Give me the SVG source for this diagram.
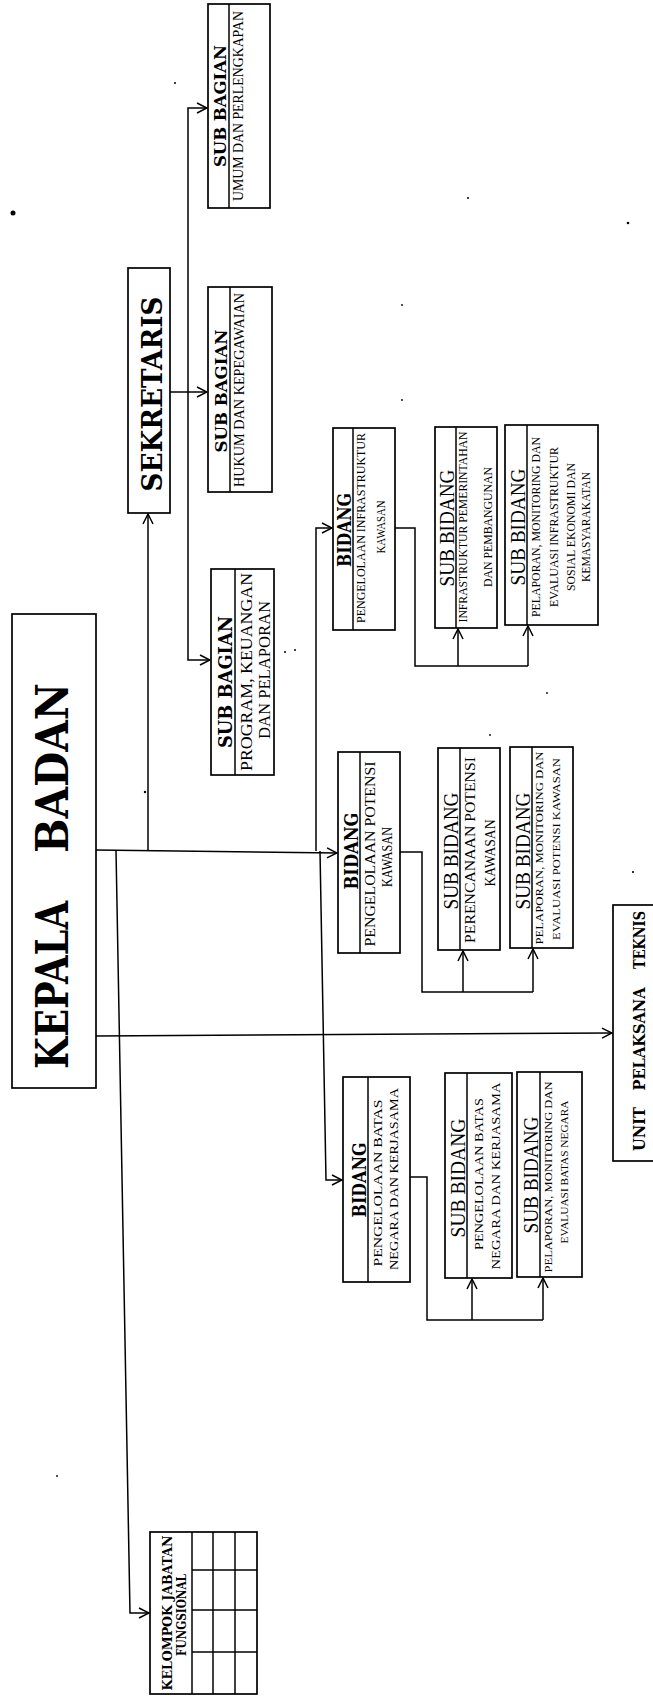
<svg xmlns="http://www.w3.org/2000/svg" width="653" height="1698" viewBox="0 0 653 1698">
<style>
.box{fill:#fff;stroke:#000;stroke-width:1.7}
.div{fill:none;stroke:#000;stroke-width:1.5}
.ln{fill:none;stroke:#000;stroke-width:1.5}
.arr{fill:none;stroke:#000;stroke-width:1.5;marker-end:url(#ah)}
text{text-anchor:middle;fill:#000}
.h{font-family:"DejaVu Serif","Liberation Serif",serif;font-weight:bold}
.t{font-family:"Liberation Serif","Times New Roman",serif}
.dot{fill:#000}
</style>
<defs>
<marker id="ah" viewBox="0 0 12 12" refX="11" refY="6" markerWidth="12" markerHeight="12" markerUnits="userSpaceOnUse" orient="auto">
<path d="M1,1 L11,6 L1,11" fill="none" stroke="#000" stroke-width="1.5"/>
</marker>
</defs>
<rect x="0" y="0" width="653" height="1698" fill="#fff"/>

<g id="connectors">
<path class="arr" d="M96,850 L337,853"/>
<path class="arr" d="M148,850 L148,514"/>
<path class="arr" d="M116,850 L130,1613 L149,1613"/>
<path class="arr" d="M96,1036 L612,1033"/>
<path class="arr" d="M316,851 L316,528 L332,528"/>
<path class="arr" d="M320,851 L326,1180 L342,1180"/>
<path class="arr" d="M170,392 L207,392"/>
<path class="arr" d="M188,392 L188,108 L207,108"/>
<path class="arr" d="M188,392 L188,660 L210,660"/>
<path class="ln" d="M395,528 L415,528 L415,666 L528,666"/>
<path class="arr" d="M458,666 L458,629"/>
<path class="arr" d="M528,666 L528,626"/>
<path class="ln" d="M400,852 L422,852 L422,992 L533,992"/>
<path class="arr" d="M463,992 L463,951"/>
<path class="arr" d="M533,992 L533,949"/>
<path class="ln" d="M410,1177 L427,1177 L427,1320 L543,1320"/>
<path class="arr" d="M472,1320 L472,1279"/>
<path class="arr" d="M543,1320 L543,1278"/>
</g>

<g id="kepala-badan">
<rect class="box" x="12" y="614" width="84" height="474"/>
<text class="h" font-size="44" textLength="168" lengthAdjust="spacingAndGlyphs" transform="translate(68,985) rotate(-90)">KEPALA</text>
<text class="h" font-size="44" textLength="170" lengthAdjust="spacingAndGlyphs" transform="translate(68,768) rotate(-90)">BADAN</text>
</g>

<g id="sekretaris">
<rect class="box" x="128" y="268" width="42" height="245"/>
<text class="h" font-size="27" textLength="195" lengthAdjust="spacingAndGlyphs" transform="translate(162,394) rotate(-90)">SEKRETARIS</text>
</g>

<g id="subbag-umum">
<rect class="box" x="208" y="4" width="62" height="204"/>
<line class="div" x1="229" y1="4" x2="229" y2="208"/>
<text class="h" font-size="17" textLength="122" lengthAdjust="spacingAndGlyphs" transform="translate(226,106) rotate(-90)">SUB  BAGIAN</text>
<text class="t" font-size="14" textLength="190" lengthAdjust="spacingAndGlyphs" transform="translate(243,106) rotate(-90)">UMUM DAN PERLENGKAPAN</text>
</g>

<g id="subbag-hukum">
<rect class="box" x="208" y="287" width="64" height="205"/>
<line class="div" x1="230" y1="287" x2="230" y2="492"/>
<text class="h" font-size="17" textLength="123" lengthAdjust="spacingAndGlyphs" transform="translate(227,391) rotate(-90)">SUB  BAGIAN</text>
<text class="t" font-size="14" textLength="194" lengthAdjust="spacingAndGlyphs" transform="translate(244,390) rotate(-90)">HUKUM DAN KEPEGAWAIAN</text>
</g>

<g id="subbag-program">
<rect class="box" x="211" y="569" width="63" height="206"/>
<line class="div" x1="235" y1="569" x2="235" y2="775"/>
<text class="h" font-size="18" textLength="132" lengthAdjust="spacingAndGlyphs" transform="translate(232,682) rotate(-90)">SUB  BAGIAN</text>
<text class="t" font-size="17" textLength="198" lengthAdjust="spacingAndGlyphs" transform="translate(252,672) rotate(-90)">PROGRAM, KEUANGAN</text>
<text class="t" font-size="17" textLength="138" lengthAdjust="spacingAndGlyphs" transform="translate(270,670) rotate(-90)">DAN PELAPORAN</text>
</g>

<g id="bidang-infrastruktur">
<rect class="box" x="333" y="428" width="62" height="202"/>
<line class="div" x1="353" y1="428" x2="353" y2="630"/>
<text class="h" font-size="18" textLength="74" lengthAdjust="spacingAndGlyphs" transform="translate(351,530) rotate(-90)">BIDANG</text>
<text class="t" font-size="12" textLength="190" lengthAdjust="spacingAndGlyphs" transform="translate(365,528) rotate(-90)">PENGELOLAAN INFRASTRUKTUR</text>
<text class="t" font-size="12" textLength="53" lengthAdjust="spacingAndGlyphs" transform="translate(385,527) rotate(-90)">KAWASAN</text>
</g>

<g id="subbidang-infra-pemerintahan">
<rect class="box" x="435" y="427" width="62" height="201"/>
<line class="div" x1="456" y1="427" x2="456" y2="628"/>
<text class="t" font-size="21" textLength="117" lengthAdjust="spacingAndGlyphs" transform="translate(454,528) rotate(-90)">SUB BIDANG</text>
<text class="t" font-size="12" textLength="191" lengthAdjust="spacingAndGlyphs" transform="translate(467,527) rotate(-90)">INFRASTRUKTUR PEMERINTAHAN</text>
<text class="t" font-size="12" textLength="120" lengthAdjust="spacingAndGlyphs" transform="translate(492,527) rotate(-90)">DAN PEMBANGUNAN</text>
</g>

<g id="subbidang-infra-pelaporan">
<rect class="box" x="505" y="425" width="93" height="200"/>
<line class="div" x1="527" y1="425" x2="527" y2="625"/>
<text class="t" font-size="21" textLength="117" lengthAdjust="spacingAndGlyphs" transform="translate(525,527) rotate(-90)">SUB BIDANG</text>
<text class="t" font-size="12" textLength="180" lengthAdjust="spacingAndGlyphs" transform="translate(540,527) rotate(-90)">PELAPORAN, MONITORING DAN</text>
<text class="t" font-size="12" textLength="160" lengthAdjust="spacingAndGlyphs" transform="translate(558,527) rotate(-90)">EVALUASI INFRASTRUKTUR</text>
<text class="t" font-size="12" textLength="128" lengthAdjust="spacingAndGlyphs" transform="translate(575,527) rotate(-90)">SOSIAL EKONOMI DAN</text>
<text class="t" font-size="12" textLength="110" lengthAdjust="spacingAndGlyphs" transform="translate(590,527) rotate(-90)">KEMASYARAKATAN</text>
</g>

<g id="bidang-potensi">
<rect class="box" x="338" y="752" width="62" height="201"/>
<line class="div" x1="360" y1="752" x2="360" y2="953"/>
<text class="h" font-size="19" textLength="77" lengthAdjust="spacingAndGlyphs" transform="translate(358,851) rotate(-90)">BIDANG</text>
<text class="t" font-size="14" textLength="185" lengthAdjust="spacingAndGlyphs" transform="translate(375,854) rotate(-90)">PENGELOLAAN POTENSI</text>
<text class="t" font-size="14" textLength="60" lengthAdjust="spacingAndGlyphs" transform="translate(392,857) rotate(-90)">KAWASAN</text>
</g>

<g id="subbidang-perencanaan-potensi">
<rect class="box" x="438" y="748" width="62" height="202"/>
<line class="div" x1="460" y1="748" x2="460" y2="950"/>
<text class="t" font-size="21" textLength="117" lengthAdjust="spacingAndGlyphs" transform="translate(458,851) rotate(-90)">SUB BIDANG</text>
<text class="t" font-size="15" textLength="186" lengthAdjust="spacingAndGlyphs" transform="translate(475,850) rotate(-90)">PERENCANAAN POTENSI</text>
<text class="t" font-size="15" textLength="67" lengthAdjust="spacingAndGlyphs" transform="translate(495,853) rotate(-90)">KAWASAN</text>
</g>

<g id="subbidang-pelaporan-potensi">
<rect class="box" x="510" y="747" width="63" height="201"/>
<line class="div" x1="532" y1="747" x2="532" y2="948"/>
<text class="t" font-size="21" textLength="117" lengthAdjust="spacingAndGlyphs" transform="translate(530,851) rotate(-90)">SUB BIDANG</text>
<text class="t" font-size="11" textLength="193" lengthAdjust="spacingAndGlyphs" transform="translate(543,848) rotate(-90)">PELAPORAN, MONITORING DAN</text>
<text class="t" font-size="11" textLength="182" lengthAdjust="spacingAndGlyphs" transform="translate(560,849) rotate(-90)">EVALUASI POTENSI KAWASAN</text>
</g>

<g id="bidang-batas-negara">
<rect class="box" x="343" y="1077" width="67" height="205"/>
<line class="div" x1="368" y1="1077" x2="368" y2="1282"/>
<text class="h" font-size="19" textLength="75" lengthAdjust="spacingAndGlyphs" transform="translate(366,1180) rotate(-90)">BIDANG</text>
<text class="t" font-size="13" textLength="167" lengthAdjust="spacingAndGlyphs" transform="translate(382,1183) rotate(-90)">PENGELOLAAN  BATAS</text>
<text class="t" font-size="13" textLength="182" lengthAdjust="spacingAndGlyphs" transform="translate(398,1179) rotate(-90)">NEGARA DAN KERJASAMA</text>
</g>

<g id="subbidang-pengelolaan-batas">
<rect class="box" x="445" y="1073" width="67" height="205"/>
<line class="div" x1="467" y1="1073" x2="467" y2="1278"/>
<text class="t" font-size="21" textLength="119" lengthAdjust="spacingAndGlyphs" transform="translate(465,1178) rotate(-90)">SUB BIDANG</text>
<text class="t" font-size="13" textLength="152" lengthAdjust="spacingAndGlyphs" transform="translate(483,1174) rotate(-90)">PENGELOLAAN BATAS</text>
<text class="t" font-size="13" textLength="187" lengthAdjust="spacingAndGlyphs" transform="translate(500,1176) rotate(-90)">NEGARA DAN KERJASAMA</text>
</g>

<g id="subbidang-pelaporan-batas">
<rect class="box" x="517" y="1072" width="65" height="205"/>
<line class="div" x1="540" y1="1072" x2="540" y2="1277"/>
<text class="t" font-size="21" textLength="117" lengthAdjust="spacingAndGlyphs" transform="translate(538,1175) rotate(-90)">SUB BIDANG</text>
<text class="t" font-size="11" textLength="191" lengthAdjust="spacingAndGlyphs" transform="translate(552,1177) rotate(-90)">PELAPORAN, MONITORING DAN</text>
<text class="t" font-size="11" textLength="143" lengthAdjust="spacingAndGlyphs" transform="translate(568,1172) rotate(-90)">EVALUASI BATAS NEGARA</text>
</g>

<g id="unit-pelaksana-teknis">
<rect class="box" x="613" y="905" width="70" height="256"/>
<text class="h" font-size="16" textLength="44" lengthAdjust="spacingAndGlyphs" transform="translate(645,1129) rotate(-90)">UNIT</text>
<text class="h" font-size="16" textLength="103" lengthAdjust="spacingAndGlyphs" transform="translate(645,1039) rotate(-90)">PELAKSANA</text>
<text class="h" font-size="16" textLength="58" lengthAdjust="spacingAndGlyphs" transform="translate(645,940) rotate(-90)">TEKNIS</text>
</g>

<g id="kelompok-jabatan-fungsional">
<rect class="box" x="150" y="1532" width="107" height="162"/>
<line class="div" x1="192" y1="1532" x2="192" y2="1694"/>
<line class="div" x1="213" y1="1532" x2="213" y2="1694"/>
<line class="div" x1="235" y1="1532" x2="235" y2="1694"/>
<line class="div" x1="192" y1="1570" x2="257" y2="1570"/>
<line class="div" x1="192" y1="1610" x2="257" y2="1610"/>
<line class="div" x1="192" y1="1652" x2="257" y2="1652"/>
<text class="h" font-size="13" textLength="155" lengthAdjust="spacingAndGlyphs" transform="translate(172,1613) rotate(-90)">KELOMPOK JABATAN</text>
<text class="h" font-size="13" textLength="82" lengthAdjust="spacingAndGlyphs" transform="translate(186,1615) rotate(-90)">FUNGSIONAL</text>
</g>

<g id="specks">
<circle class="dot" cx="13" cy="213" r="2.5"/>
<circle class="dot" cx="145" cy="792" r="1.2"/>
<circle class="dot" cx="285" cy="652" r="1"/>
<circle class="dot" cx="295" cy="650" r="1"/>
<circle class="dot" cx="628" cy="223" r="1.3"/>
<circle class="dot" cx="468" cy="198" r="1"/>
<circle class="dot" cx="402" cy="305" r="0.9"/>
<circle class="dot" cx="402" cy="400" r="0.9"/>
<circle class="dot" cx="547" cy="693" r="0.9"/>
<circle class="dot" cx="490" cy="735" r="0.9"/>
<circle class="dot" cx="633" cy="872" r="1.1"/>
<circle class="dot" cx="175" cy="83" r="1"/>
<circle class="dot" cx="57" cy="1476" r="0.9"/>
</g>
</svg>
